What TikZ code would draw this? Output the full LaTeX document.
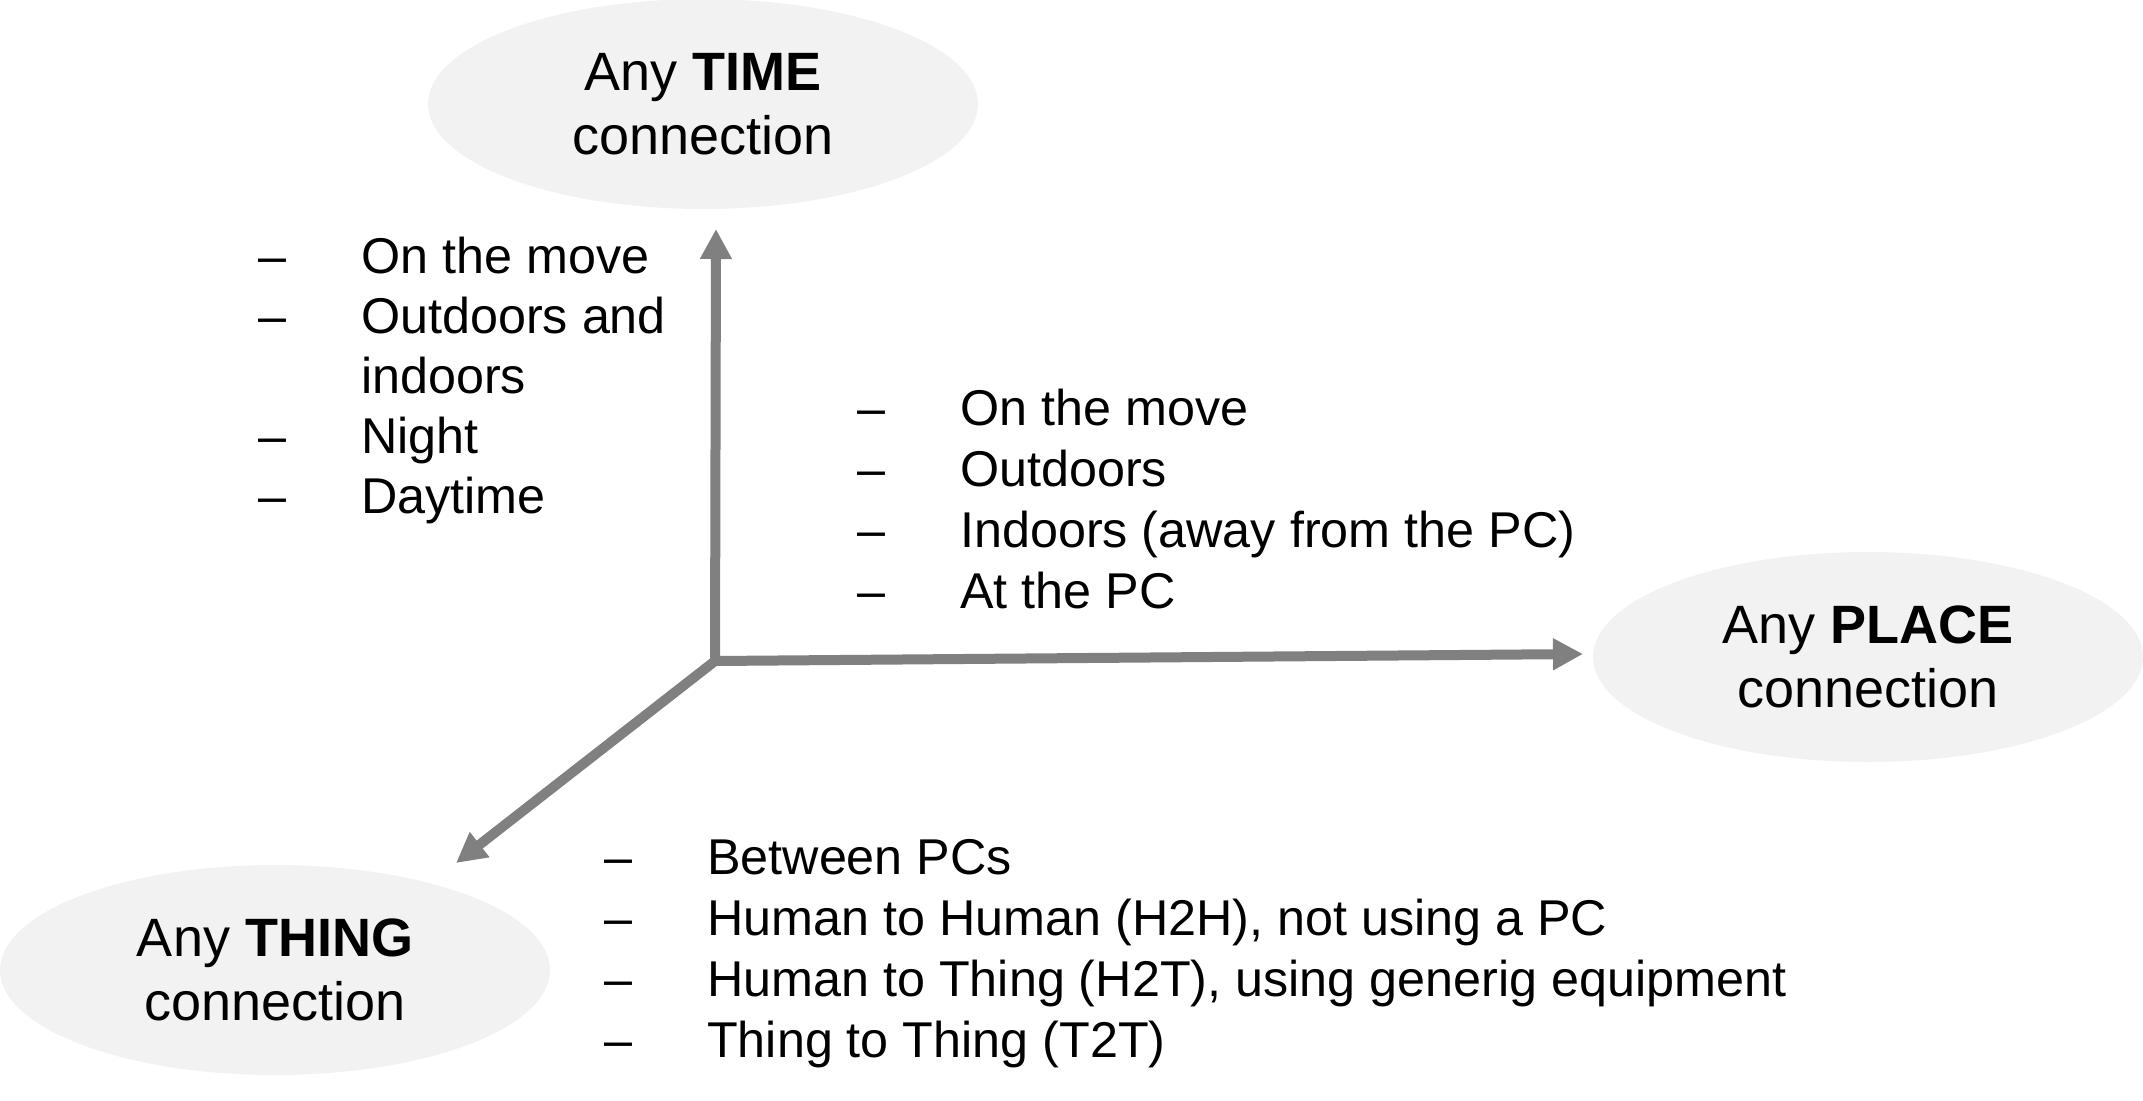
\documentclass[tikz,border=0pt]{standalone}
\usepackage{fontspec}
\setmainfont{Liberation Sans}
\usetikzlibrary{arrows.meta,shapes.geometric}
\definecolor{axisgray}{RGB}{128,128,128}
\definecolor{blobfill}{RGB}{242,242,242}
\begin{document}
\begin{tikzpicture}[x=1pt,y=-1pt,
  >={Triangle[width=30pt,length=30pt]},
  blob/.style={ellipse, fill=blobfill, draw=none, minimum width=550pt, minimum height=210pt,
    inner sep=0pt, align=center, font=\fontsize{54}{64}\selectfont},
  item/.style={anchor=base west, inner sep=0pt, font=\fontsize{50.3}{61}\selectfont},
  axis/.style={draw=axisgray, line width=10pt, line join=miter}]
\useasboundingbox (0,0) rectangle (2143,1100);

% ellipses
\node[blob] (time)  at (703,104)  {Any \textbf{TIME}\\connection};
\node[blob] (place) at (1868,657) {Any \textbf{PLACE}\\connection};
\node[blob] (thing) at (275,970)  {Any \textbf{THING}\\connection};

% axes
\coordinate (O) at (715,661);
\coordinate (tTip) at (716,229);
\coordinate (pTip) at (1583,654);
\coordinate (kTip) at (456,863);
\draw[axis, <->] (tTip) -- (O) -- (pTip);
\draw[axis, ->] (O) -- (kTip);

% time list
\node[item] (td1) at (258,273) {–};  \node[item] (tt1) at (361,273) {On the move};
\node[item] (td2) at (258,333) {–};  \node[item] (tt2) at (361,333) {Outdoors and};
                                      \node[item] (tt3) at (361,393) {indoors};
\node[item] (td4) at (258,453) {–};  \node[item] (tt4) at (361,453) {Night};
\node[item] (td5) at (258,513) {–};  \node[item] (tt5) at (361,513) {Daytime};

% place list
\node[item] (pd1) at (857,425) {–};  \node[item] (pt1) at (960,425) {On the move};
\node[item] (pd2) at (857,486) {–};  \node[item] (pt2) at (960,486) {Outdoors};
\node[item] (pd3) at (857,547) {–};  \node[item] (pt3) at (960,547) {Indoors (away from the PC)};
\node[item] (pd4) at (857,608) {–};  \node[item] (pt4) at (960,608) {At the PC};

% thing list
\node[item] (kd1) at (604,874) {–};  \node[item] (kt1) at (707,874) {Between PCs};
\node[item] (kd2) at (604,935) {–};  \node[item] (kt2) at (707,935) {Human to Human (H2H), not using a PC};
\node[item] (kd3) at (604,996) {–};  \node[item] (kt3) at (707,996) {Human to Thing (H2T), using generig equipment};
\node[item] (kd4) at (604,1057) {–}; \node[item] (kt4) at (707,1057) {Thing to Thing (T2T)};
\end{tikzpicture}
\end{document}
